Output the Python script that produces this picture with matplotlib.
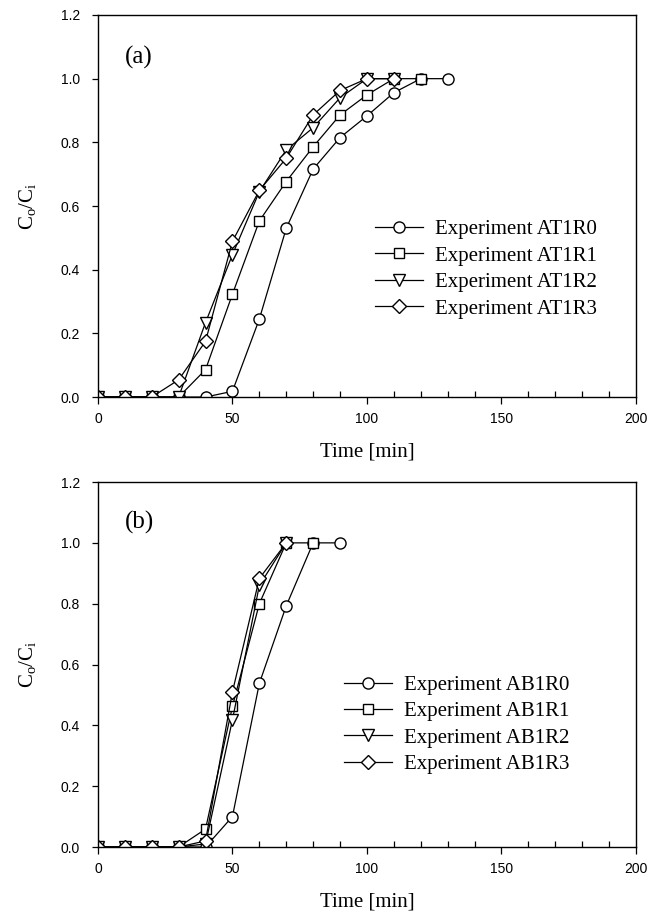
import matplotlib
matplotlib.use("Agg")
import matplotlib.pyplot as plt
from matplotlib.ticker import MultipleLocator, FormatStrFormatter

# ---- data (a) ----
t_a0 = [0, 10, 20, 30, 40, 50, 60, 70, 80, 90, 100, 110, 120, 130]
AT1R0 = [0, 0, 0, 0, 0.0, 0.018, 0.245, 0.53, 0.716, 0.815, 0.883, 0.956, 1.0, 1.0]
t_a1 = [0, 10, 20, 30, 40, 50, 60, 70, 80, 90, 100, 110, 120]
AT1R1 = [0, 0, 0, 0, 0.086, 0.323, 0.553, 0.677, 0.786, 0.886, 0.949, 1.0, 1.0]
t_a2 = [0, 10, 20, 30, 40, 50, 60, 70, 80, 90, 100, 110]
AT1R2 = [0, 0, 0, 0, 0.234, 0.447, 0.645, 0.776, 0.846, 0.94, 1.0, 1.0]
t_a3 = [0, 10, 20, 30, 40, 50, 60, 70, 80, 90, 100, 110]
AT1R3 = [0, 0, 0, 0.054, 0.175, 0.489, 0.649, 0.75, 0.886, 0.963, 1.0, 1.0]

# ---- data (b) ----
t_b0 = [0, 10, 20, 30, 40, 50, 60, 70, 80, 90]
AB1R0 = [0, 0, 0, 0, 0.0, 0.10, 0.538, 0.793, 1.0, 1.0]
t_b1 = [0, 10, 20, 30, 40, 50, 60, 70, 80]
AB1R1 = [0, 0, 0, 0, 0.059, 0.462, 0.80, 1.0, 1.0]
t_b2 = [0, 10, 20, 30, 40, 50, 60, 70]
AB1R2 = [0, 0, 0, 0, 0.01, 0.418, 0.86, 1.0]
t_b3 = [0, 10, 20, 30, 40, 50, 60, 70]
AB1R3 = [0, 0, 0, 0, 0.02, 0.51, 0.883, 1.0]

labels_a = ["Experiment AT1R0", "Experiment AT1R1", "Experiment AT1R2", "Experiment AT1R3"]
labels_b = ["Experiment AB1R0", "Experiment AB1R1", "Experiment AB1R2", "Experiment AB1R3"]
markers = ["o", "s", "v", "D"]
msizes = [8, 7.5, 8, 7]

plt.rcParams["mathtext.fontset"] = "custom"
plt.rcParams["mathtext.rm"] = "Liberation Serif"
plt.rcParams["mathtext.it"] = "Liberation Serif:italic"

serif = ["Liberation Serif", "DejaVu Serif"]
sans = ["Liberation Sans", "DejaVu Sans"]

fig = plt.figure(figsize=(6.66, 9.14), dpi=100)
ax_a = fig.add_axes([0.147, 0.5656, 0.808, 0.418])
ax_b = fig.add_axes([0.147, 0.0733, 0.808, 0.3993])

def draw(ax, ts, ys, labels, tag, leg_anchor):
    for t, y, lab, m, ms in zip(ts, ys, labels, markers, msizes):
        ax.plot(t, y, color="black", lw=0.9, marker=m, ms=ms,
                mfc="white", mec="black", mew=1.0, label=lab)
    ax.set_xlim(0, 200)
    ax.set_ylim(0, 1.2)
    ax.xaxis.set_major_locator(MultipleLocator(50))
    ax.xaxis.set_minor_locator(MultipleLocator(10))
    ax.yaxis.set_major_locator(MultipleLocator(0.2))
    ax.yaxis.set_major_formatter(FormatStrFormatter("%.1f"))
    ax.tick_params(axis="x", which="major", direction="out", length=5, width=0.9,
                   top=False, pad=6)
    ax.tick_params(axis="x", which="minor", direction="in", length=4, width=0.9, top=False)
    ax.tick_params(axis="y", which="major", direction="out", length=4, width=0.9,
                   right=False, pad=9)
    for lab in ax.get_xticklabels() + ax.get_yticklabels():
        lab.set_fontfamily(sans)
        lab.set_fontsize(10)
    for s in ax.spines.values():
        s.set_linewidth(1.0)
    ax.set_xlabel("Time [min]", fontfamily=serif, fontsize=15, labelpad=12)
    ax.set_ylabel(r"C$_\mathrm{o}$/C$_\mathrm{i}$", fontfamily=serif, fontsize=15, labelpad=16)
    ax.text(0.05, 0.89, tag, transform=ax.transAxes, fontfamily=serif, fontsize=18,
            ha="left", va="center")
    ax.legend(loc="center left", bbox_to_anchor=leg_anchor, frameon=False,
              prop={"family": serif, "size": 15}, handlelength=2.3,
              handletextpad=0.58, labelspacing=0.33, borderaxespad=0)

draw(ax_a, [t_a0, t_a1, t_a2, t_a3], [AT1R0, AT1R1, AT1R2, AT1R3], labels_a, "(a)", (0.50, 0.335))
draw(ax_b, [t_b0, t_b1, t_b2, t_b3], [AB1R0, AB1R1, AB1R2, AB1R3], labels_b, "(b)", (0.442, 0.335))

fig.savefig("out.png", dpi=100)
